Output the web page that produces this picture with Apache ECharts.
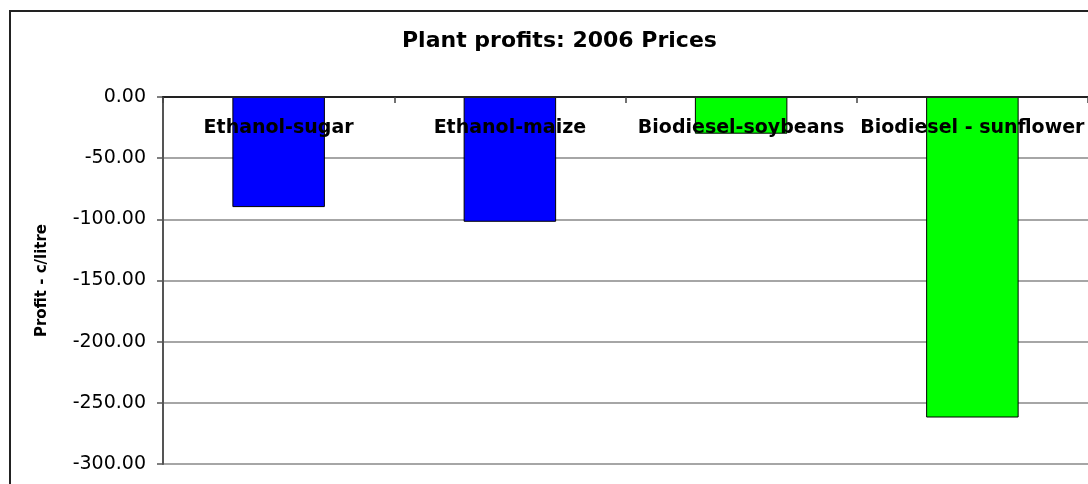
<!DOCTYPE html>
<html>
<head>
<meta charset="utf-8">
<title>Plant profits: 2006 Prices</title>
<script src="https://cdn.jsdelivr.net/npm/echarts@6/dist/echarts.min.js"></script>
<style>
  html, body { margin: 0; padding: 0; background: #fff; }
  #plant-profits { width: 1088px; height: 484px; }
</style>
</head>
<body>
<div id="plant-profits"></div>
<script>
var categories = ['Ethanol-sugar', 'Ethanol-maize', 'Biodiesel-soybeans', 'Biodiesel - sunflower'];
var profits = [-90, -102, -30, -262];
var barColors = ['#0000ff', '#0000ff', '#00ff00', '#00ff00'];
var yTicks = { min: -300, max: 0, step: 50 };

(function () {
    var el = document.getElementById('plant-profits');
    if (!el || typeof echarts === 'undefined') {
        console.error('chart container or echarts missing');
        return;
    }

    var chart = echarts.init(el);
    var font = '"DejaVu Sans", Arial, sans-serif';

    var option = {
        animation: false,
        title: {
            text: 'Plant profits: 2006 Prices',
            left: 397,
            top: 25,
            textStyle: { fontFamily: font, fontSize: 22, fontWeight: 'bold', color: '#000' }
        },
        graphic: [{
            type: 'rect',
            shape: { x: 10, y: 11, width: 1100, height: 500 },
            style: { fill: 'none', stroke: '#222', lineWidth: 2 },
            z: 100
        }],
        grid: { left: 163, top: 97, right: 0, bottom: 20, outerBoundsMode: 'none' },
        xAxis: {
            type: 'category',
            data: categories,
            position: 'top',
            z: 10,
            axisLine: { onZero: false, lineStyle: { color: '#222', width: 2 } },
            axisTick: { show: true, inside: true, length: 6, lineStyle: { color: '#444', width: 1.5 } },
            axisLabel: {
                inside: true,
                interval: 0,
                margin: 22,
                fontFamily: font,
                fontSize: 19,
                fontWeight: 'bold',
                color: '#000'
            }
        },
        yAxis: {
            type: 'value',
            min: yTicks.min,
            max: yTicks.max,
            interval: yTicks.step,
            name: 'Profit - c/litre',
            nameLocation: 'middle',
            nameGap: 113,
            nameRotate: 90,
            nameTextStyle: { fontFamily: font, fontSize: 15, fontWeight: 'bold', color: '#000' },
            axisLine: { show: true, lineStyle: { color: '#555', width: 2 } },
            axisTick: { show: true, length: 6, lineStyle: { color: '#555', width: 1.5 } },
            axisLabel: {
                margin: 17,
                fontFamily: font,
                fontSize: 19,
                color: '#000',
                formatter: function (v) { return v.toFixed(2); }
            },
            splitLine: { show: true, lineStyle: { color: '#888', width: 1.5 } }
        },
        series: [{
            type: 'bar',
            barCategoryGap: '60%',
            data: profits.map(function (v, i) {
                return { value: v, itemStyle: { color: barColors[i] } };
            }),
            itemStyle: { borderColor: '#000', borderWidth: 1 }
        }]
    };

    chart.setOption(option);
    window.addEventListener('resize', function () { chart.resize(); });
})();
</script>
</body>
</html>
